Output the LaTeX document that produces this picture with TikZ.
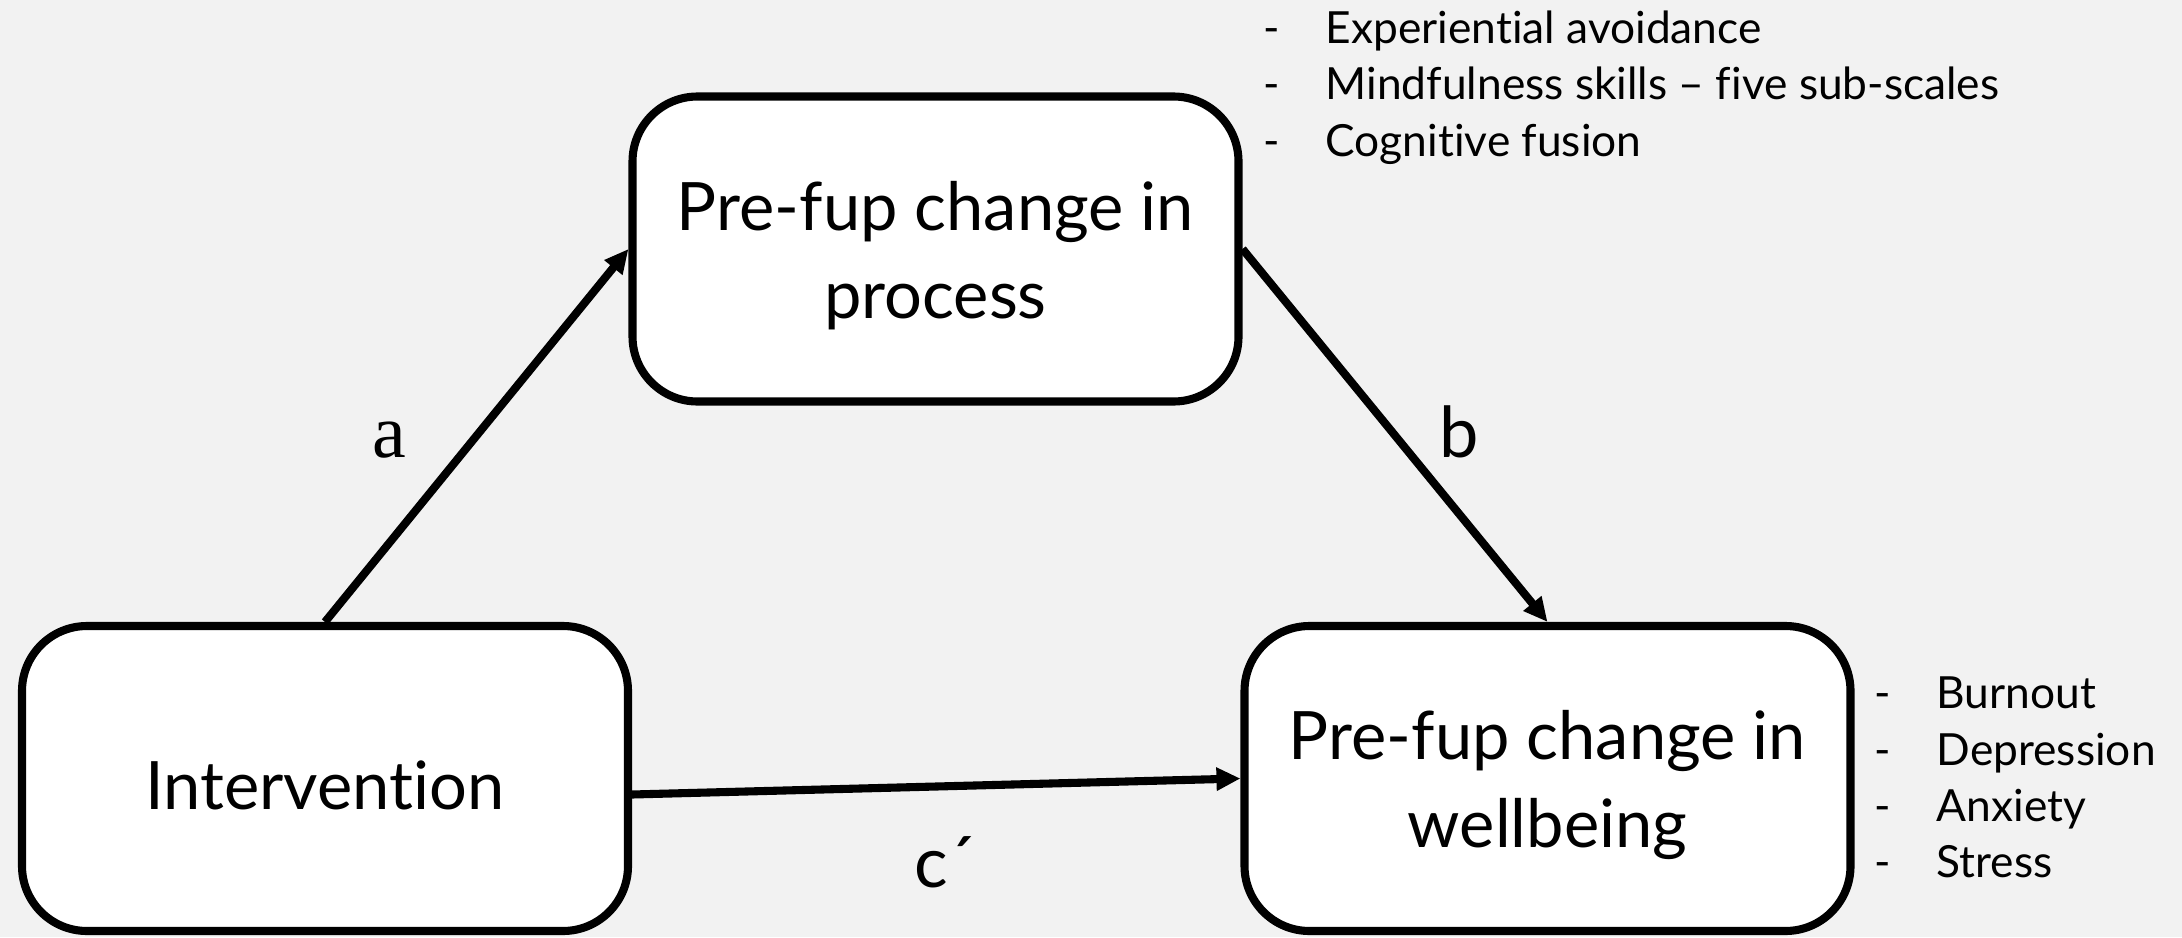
\documentclass[tikz,border=0pt]{standalone}
\usepackage{fontspec}
\setmainfont{Lato}[Ligatures=NoCommon]
\newfontfamily\labelserif{Liberation Serif}
\usetikzlibrary{arrows.meta}
\definecolor{slidegray}{HTML}{F2F2F2}
\newcommand{\boxstrut}{\rule{0pt}{0.62cm}}

\begin{document}
\begin{tikzpicture}
    \tikzstyle{stagebox}=[draw, line width=2.3pt, fill=white, rounded corners=0.65cm, minimum width=6.06cm, minimum height=3.05cm, align=center, font=\fontsize{19pt}{25pt}\selectfont]
    \tikzstyle{link}=[-{Triangle[length=0.24cm, width=0.22cm]}, line width=2.3pt]
    \tikzstyle{pathlabel}=[anchor=base, inner sep=0pt, font=\fontsize{20pt}{24pt}\selectfont]
    \tikzstyle{measure}=[anchor=base west, inner sep=0pt, font=\fontsize{12.6pt}{16pt}\selectfont]
    \fill[slidegray] (0, 0) rectangle (21.82, 9.37);
    \useasboundingbox (0, 0) rectangle (21.82, 9.37);
    \draw (3.25, 1.585) node[stagebox] (intervention) {\boxstrut Intervention};
    \draw (9.355, 6.88) node[stagebox] (process) {\boxstrut Pre-fup change in\\process};
    \draw (15.475, 1.585) node[stagebox] (wellbeing) {\boxstrut Pre-fup change in\\wellbeing};
    \draw[link] (intervention.north) -- (process.west);
    \draw[link] (process.east) -- (wellbeing.north);
    \draw[link] ([yshift=-0.16cm]intervention.east) -- (wellbeing.west);
    \draw (3.89, 4.80) node[pathlabel, font=\labelserif\fontsize{21.6pt}{26pt}\selectfont] (a) {a};
    \draw (14.59, 4.80) node[pathlabel] (b) {b};
    \draw (9.45, 0.50) node[pathlabel] (c) {c´};
    % process measures
    \draw (12.63, 8.94) node[measure] (avoid) {\makebox[0.62cm][l]{-}Experiential avoidance};
    \draw (12.63, 8.38) node[measure] (mindful) {\makebox[0.62cm][l]{-}Mindfulness skills – five sub-scales};
    \draw (12.63, 7.81) node[measure] (fusion) {\makebox[0.62cm][l]{-}Cognitive fusion};
    % wellbeing measures
    \draw (18.74, 2.29) node[measure] (burnout) {\makebox[0.62cm][l]{-}Burnout};
    \draw (18.74, 1.72) node[measure] (depress) {\makebox[0.62cm][l]{-}Depression};
    \draw (18.74, 1.16) node[measure] (anxiety) {\makebox[0.62cm][l]{-}Anxiety};
    \draw (18.74, 0.60) node[measure] (stress) {\makebox[0.62cm][l]{-}Stress};
\end{tikzpicture}
\end{document}
